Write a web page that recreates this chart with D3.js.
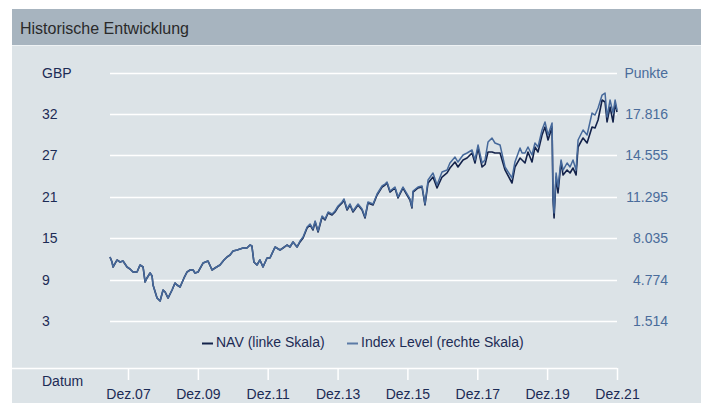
<!DOCTYPE html>
<html>
<head>
<meta charset="utf-8">
<script src="https://cdn.jsdelivr.net/npm/d3@7"></script>
<style>
  body { margin: 0; background: #fff; }
  svg { display: block; font-family: "Liberation Sans", Arial, sans-serif; }
</style>
</head>
<body>
<svg id="chart"></svg>
<script>
// Data
const dates = [
  "2007-06-26","2007-07-17","2007-07-28","2007-09-08","2007-10-09","2007-11-09","2007-12-21",
  "2008-01-21","2008-02-22","2008-04-04","2008-05-05","2008-06-06","2008-06-27","2008-07-17",
  "2008-08-18","2008-09-08","2008-09-18","2008-10-30","2008-12-01","2009-01-01","2009-01-22",
  "2009-02-22","2009-04-05","2009-05-06","2009-05-27","2009-06-28","2009-08-08","2009-09-09",
  "2009-10-10","2009-11-11","2009-12-01","2010-01-02","2010-02-23","2010-04-16","2010-05-28",
  "2010-06-28","2010-08-19","2010-09-30","2010-11-01","2010-12-02","2011-01-03","2011-02-14",
  "2011-04-17","2011-05-28","2011-06-29","2011-07-19","2011-08-09","2011-09-10","2011-10-11",
  "2011-11-12","2011-12-24","2012-01-24","2012-03-17","2012-05-08","2012-06-08","2012-07-20",
  "2012-08-20","2012-09-21","2012-11-02","2012-12-03","2013-01-04","2013-02-15","2013-03-18",
  "2013-04-18","2013-05-10","2013-06-10","2013-07-22","2013-08-22","2013-09-23","2013-11-03",
  "2013-12-04","2014-01-05","2014-02-16","2014-03-08","2014-04-09","2014-05-10","2014-06-10",
  "2014-08-02","2014-09-13","2014-10-14","2014-11-14","2015-01-06","2015-02-17","2015-04-10",
  "2015-05-11","2015-06-01","2015-07-02","2015-08-23","2015-09-24","2015-11-15","2015-12-27",
  "2016-01-27","2016-02-17","2016-02-28","2016-04-20","2016-06-01","2016-07-02","2016-08-03",
  "2016-09-24","2016-11-05","2016-12-27","2017-02-18","2017-03-20","2017-05-12","2017-06-12",
  "2017-08-04","2017-09-15","2017-11-06","2017-12-07","2018-01-08","2018-02-19","2018-03-22",
  "2018-04-22","2018-06-03","2018-07-04","2018-08-26","2018-10-17","2018-12-29","2019-01-29",
  "2019-03-23","2019-04-13","2019-05-14","2019-06-14","2019-07-26","2019-08-26","2019-09-27",
  "2019-11-08","2019-12-09","2020-01-10","2020-02-21","2020-03-02","2020-03-13","2020-04-03",
  "2020-04-23","2020-05-25","2020-06-15","2020-07-27","2020-08-27","2020-09-27","2020-10-29",
  "2020-11-19","2021-01-10","2021-02-21","2021-04-14","2021-05-15","2021-06-16","2021-07-28",
  "2021-08-28","2021-09-18","2021-10-19","2021-11-20","2021-12-11","2021-12-31"
];

// NAV in GBP (left scale)
const nav = [
  12.20,11.49,10.79,11.78,11.49,11.63,10.79,
  10.51,10.09,10.09,11.07,10.79,8.68,9.25,
  9.95,9.53,8.26,6.43,6.01,7.56,7.28,
  6.43,7.56,8.54,8.26,7.98,9.25,10.09,
  10.37,10.37,9.95,10.09,11.35,11.63,10.37,
  10.65,11.07,11.78,12.20,12.48,13.04,13.18,
  13.46,13.46,13.88,13.74,11.49,11.07,11.78,
  10.79,12.06,12.06,13.60,13.18,13.46,13.88,
  13.60,14.31,13.60,14.31,14.87,16.27,16.70,
  15.99,17.12,15.71,17.82,17.40,18.38,18.10,
  18.52,19.23,19.79,20.21,18.80,19.51,18.52,
  19.51,18.80,17.68,19.79,19.51,20.91,22.04,
  22.32,22.60,21.33,21.90,20.49,21.90,20.91,
  20.21,19.09,21.33,21.90,22.04,19.51,22.60,
  23.44,21.90,23.44,24.01,24.71,25.55,24.85,
  25.83,26.11,26.82,25.41,27.52,24.85,25.20,
  26.96,26.96,26.82,26.82,24.43,22.60,24.85,
  26.11,25.83,25.41,26.96,25.55,27.66,26.96,
  29.35,30.47,28.64,30.47,20.21,17.68,23.44,
  21.19,25.55,23.72,24.43,24.01,24.71,23.72,
  27.66,28.93,28.22,30.47,30.33,31.46,34.27,
  33.99,31.18,33.28,31.18,33.85,32.58
];

// Index level in points (right scale)
const indexLevel = [
  6554,6160,5767,6318,6160,6239,5767,
  5609,5373,5373,5924,5767,4585,4900,
  5294,5058,4349,3325,3089,3955,3798,
  3325,3955,4506,4349,4192,4900,5373,
  5530,5530,5294,5373,6082,6239,5530,
  5688,5924,6318,6554,6712,7027,7105,
  7263,7263,7499,7420,6160,5924,6318,
  5767,6475,6475,7342,7105,7263,7499,
  7342,7735,7342,7814,8129,8917,9153,
  8759,9389,8602,9783,9547,10098,9941,
  10177,10571,10886,11122,10334,10728,10177,
  10728,10334,9704,10886,10728,11516,12146,
  12303,12461,11752,12067,11279,12067,11516,
  11122,10492,11752,12067,12146,10728,12618,
  13169,12224,13248,13405,13957,14429,14035,
  14586,14744,14980,14193,15374,13957,14200,
  15610,15925,15532,15374,13642,12775,14035,
  15138,14744,14744,15216,14586,15532,15216,
  16555,17185,16162,17106,11279,10019,13169,
  12067,14193,13405,13957,13642,14193,13405,
  15768,16555,16162,17894,17737,18288,19312,
  19469,17579,18918,17894,18918,18130
];

const leftTickLabels = ["3", "9", "15", "21", "27", "32"];
const rightTicks = [1514, 4774, 8035, 11295, 14555, 17816];
const unitRowValue = 21076; // row holding "GBP" / "Punkte"
const leftRange = [3.2, 32.3];
const xTickDates = ["2007-12-31","2009-12-31","2011-12-31","2013-12-31",
                    "2015-12-31","2017-12-31","2019-12-31","2021-12-31"];

const width = 708, height = 403;
const navy = "#1c2b55", idxBlue = "#4a6c9b";

const parse = d3.timeParse("%Y-%m-%d");
const de = d3.timeFormatLocale({
  dateTime: "%A, der %e. %B %Y, %X", date: "%d.%m.%Y", time: "%H:%M:%S",
  periods: ["AM", "PM"],
  days: ["Sonntag","Montag","Dienstag","Mittwoch","Donnerstag","Freitag","Samstag"],
  shortDays: ["So","Mo","Di","Mi","Do","Fr","Sa"],
  months: ["Januar","Februar","März","April","Mai","Juni","Juli","August","September","Oktober","November","Dezember"],
  shortMonths: ["Jan","Feb","Mär","Apr","Mai","Jun","Jul","Aug","Sep","Okt","Nov","Dez"]
});
const numDe = d3.formatLocale({ decimal: ",", thousands: ".", grouping: [3], currency: ["", " €"] });
const fmtPts = numDe.format(",d");

const series = dates.map((d, i) => ({ date: parse(d), nav: nav[i], idx: indexLevel[i] }));

const svg = d3.select("#chart").attr("width", width).attr("height", height);

// Panel + header
svg.append("rect").attr("x", 12).attr("y", 9).attr("width", 689).attr("height", height - 9)
  .attr("fill", "#dce3e7");
svg.append("rect").attr("x", 12).attr("y", 9).attr("width", 689).attr("height", 36)
  .attr("fill", "#a7b4bf");
svg.append("line").attr("x1", 12).attr("x2", 701).attr("y1", 45.5).attr("y2", 45.5)
  .attr("stroke", "#eef2f4").attr("stroke-width", 1);
svg.append("text").attr("x", 20).attr("y", 34)
  .attr("font-size", 16).attr("fill", "#2a2a2a").text("Historische Entwicklung");

// Scales
const x = d3.scaleTime()
  .domain([parse(dates[0]), parse(dates[dates.length - 1])])
  .range([110, 617]);
const yRight = d3.scaleLinear().domain([rightTicks[0], rightTicks[rightTicks.length - 1]]).range([321, 114]);
const yLeft = d3.scaleLinear().domain(leftRange).range([321, 114]);

// Grid
const gridVals = rightTicks.concat([unitRowValue]);
svg.append("g").selectAll("line").data(gridVals).enter().append("line")
  .attr("x1", 110).attr("x2", 617)
  .attr("y1", d => Math.round(yRight(d)) + 0.5).attr("y2", d => Math.round(yRight(d)) + 0.5)
  .attr("stroke", "#fff").attr("stroke-width", 1.6);

// Left labels
svg.append("g").selectAll("text").data(rightTicks).enter().append("text")
  .attr("x", 42).attr("y", d => yRight(d)).attr("dy", "0.36em")
  .attr("font-size", 14).attr("fill", navy)
  .text((d, i) => leftTickLabels[i]);
svg.append("text").attr("x", 42).attr("y", yRight(unitRowValue)).attr("dy", "0.36em")
  .attr("font-size", 14).attr("fill", navy).text("GBP");

// Right labels
svg.append("g").selectAll("text").data(rightTicks).enter().append("text")
  .attr("x", 668).attr("y", d => yRight(d)).attr("dy", "0.36em")
  .attr("text-anchor", "end").attr("font-size", 14).attr("fill", idxBlue)
  .text(d => fmtPts(d));
svg.append("text").attr("x", 668).attr("y", yRight(unitRowValue)).attr("dy", "0.36em")
  .attr("text-anchor", "end").attr("font-size", 14).attr("fill", idxBlue).text("Punkte");

// Lines
const navLine = d3.line().x(d => x(d.date)).y(d => yLeft(d.nav));
const idxLine = d3.line().x(d => x(d.date)).y(d => yRight(d.idx));
svg.append("path").datum(series).attr("d", navLine)
  .attr("fill", "none").attr("stroke", "#13224a").attr("stroke-width", 1.6)
  .attr("stroke-linejoin", "round");
svg.append("path").datum(series).attr("d", idxLine)
  .attr("fill", "none").attr("stroke", "#46699b").attr("stroke-width", 1.5)
  .attr("stroke-linejoin", "round");

// Legend
const legend = [
  { label: "NAV (linke Skala)", color: "#13224a", x: 202 },
  { label: "Index Level (rechte Skala)", color: "#5b7aa6", x: 347 }
];
const lg = svg.append("g").selectAll("g").data(legend).enter().append("g")
  .attr("transform", d => `translate(${d.x},343)`);
lg.append("line").attr("x1", 0).attr("x2", 11).attr("y1", 0.5).attr("y2", 0.5)
  .attr("stroke", d => d.color).attr("stroke-width", 2);
lg.append("text").attr("x", 14).attr("y", 0).attr("dy", "0.32em")
  .attr("font-size", 14).attr("fill", navy).text(d => d.label);

// X axis
svg.append("line").attr("x1", 12).attr("x2", 617).attr("y1", 368.5).attr("y2", 368.5)
  .attr("stroke", "#fff").attr("stroke-width", 1.5);
const xAxis = d3.axisBottom(x)
  .tickValues(xTickDates.map(parse))
  .tickSize(12).tickPadding(9)
  .tickFormat(de.format("%b.%y"));
const gx = svg.append("g").attr("transform", "translate(0,368)").call(xAxis);
gx.select(".domain").remove();
gx.selectAll(".tick line").attr("stroke", "#fff").attr("stroke-width", 1.5);
gx.selectAll(".tick text").attr("font-size", 14).attr("fill", navy)
  .attr("font-family", "Liberation Sans, Arial, sans-serif");

svg.append("text").attr("x", 42).attr("y", 381).attr("dy", "0.36em")
  .attr("font-size", 14).attr("fill", navy).text("Datum");
</script>
</body>
</html>
